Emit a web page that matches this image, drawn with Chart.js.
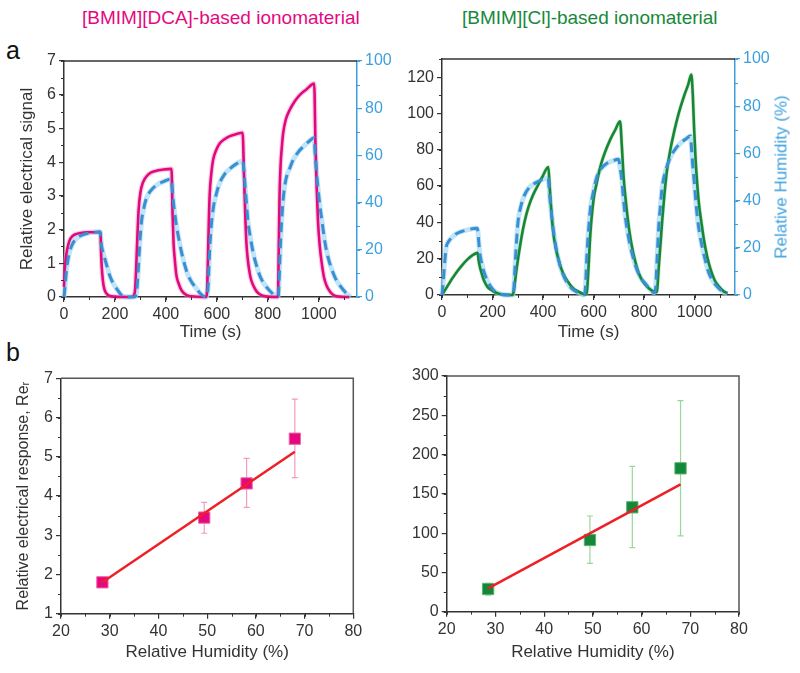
<!DOCTYPE html>
<html><head><meta charset="utf-8">
<script src="https://cdn.jsdelivr.net/npm/chart.js@4"></script>
<style>
body{margin:0;background:#fff;width:800px;height:673px;position:relative;overflow:hidden;font-family:"Liberation Sans",Arial,sans-serif}
canvas{position:absolute}
.t{position:absolute;white-space:nowrap;line-height:1}
</style></head><body>
<div class="t" style="left:82px;top:8px;color:#E5097F;font-size:19px">[BMIM][DCA]-based ionomaterial</div>
<div class="t" style="left:462px;top:8px;color:#17893A;font-size:19px">[BMIM][Cl]-based ionomaterial</div>
<div class="t" style="left:6px;top:38px;color:#111;font-size:25px">a</div>
<div class="t" style="left:6px;top:340px;color:#111;font-size:25px">b</div>
<canvas id="a1" width="400" height="305" style="left:0;top:40px"></canvas>
<canvas id="a2" width="400" height="305" style="left:400px;top:40px"></canvas>
<canvas id="b1" width="400" height="328" style="left:0;top:345px"></canvas>
<canvas id="b2" width="400" height="328" style="left:400px;top:345px"></canvas>
<div class="t" style="left:781px;top:177px;transform:translate(-50%,-50%) rotate(-90deg);color:#3DA0DC;font-size:17px">Relative Humidity (%)</div>
<script>
// ---------- data ----------
const timeTicks = [0,200,400,600,800,1000];
const dcaSignalTicks = [0,1,2,3,4,5,6,7];
const clSignalTicks = [0,20,40,60,80,100,120];
const rhTicks = [0,20,40,60,80,100];
const rhXTicks = [20,30,40,50,60,70,80];
const dcaReTicks = [1,2,3,4,5,6,7];
const clReTicks = [0,50,100,150,200,250,300];

// [time (s), relative electrical signal]
const dcaSignal = [
[0,0.3],[3,0.8],[8,1.2],[15,1.5],[22,1.68],[32,1.8],[45,1.86],[65,1.9],[90,1.92],[143,1.92],
[146,1.2],[150,0.7],[155,0.35],[165,0.12],[180,0.03],[200,0.01],[260,0],[270,0.02],[278,0.15],
[283,0.8],[288,1.8],[293,2.6],[300,3.1],[310,3.4],[330,3.63],[360,3.74],[390,3.78],[422,3.8],
[426,2.5],[430,1.6],[435,1.1],[441,0.65],[450,0.4],[461,0.2],[480,0.06],[500,0.02],[555,0],
[560,0.05],[563,0.5],[566,1.5],[569,2.4],[572,3.07],[578,3.65],[585,4.06],[597,4.35],[611,4.55],[630,4.68],[651,4.77],[675,4.83],[701,4.87],
[707,3.5],[712,2.3],[716,1.6],[729,0.7],[749,0.25],[768,0.08],[800,0.01],[838,0],
[840,0.05],[843,1.5],[846,3.0],[850,3.9],[855,4.45],[860,4.85],[870,5.25],[886,5.55],[905,5.8],[925,5.99],[950,6.15],[982,6.33],
[987,4.5],[992,3.2],[997,2.23],[1004,1.5],[1011,1.04],[1020,0.6],[1030,0.35],[1045,0.15],[1060,0.05],[1080,0.01],[1120,0]];

// [time (s), relative humidity (%)]
const dcaRH = [
[0,0],[4,4],[9,10.6],[15,15.5],[22,19.1],[35,22.8],[49,24.8],[70,26.2],[90,26.9],[115,27.4],[141,27.6],
[144,25],[147,21.9],[153,19],[160,16.3],[170,12.5],[179,9.2],[192,6],[206,3.6],[220,1.5],[232,0.3],[245,0],[275,0],[281,0.5],
[286,3],[291,10.6],[297,22],[304,31.8],[313,37.5],[323,41.7],[340,45],[363,47.4],[390,48.9],[421,50],
[424,47],[428,41.7],[434,36],[441,30.4],[450,25],[461,19.1],[474,13.5],[487,9.2],[503,6],[520,3.6],[535,1.5],[550,0.2],[558,0],
[562,1],[566,5],[570,16],[575,26],[585,37],[600,44.5],[611,48.3],[630,52],[651,54.3],[675,56.3],[702,57.6],
[706,54],[710,48],[716,40],[722,32],[732,25],[742,19],[755,13.5],[768,9.2],[780,6.5],[795,4.2],[815,1.8],[835,0.3],[841,0.3],
[844,6],[848,18],[853,30],[860,41],[867,47.5],[876,52],[886,54.5],[899,58],[920,61.5],[940,63.8],[960,65.8],[982,67.5],
[985,62],[991,53],[997,46],[1004,39],[1014,31],[1024,23.3],[1036,17],[1050,12],[1065,8],[1082,5],[1100,2.5],[1115,0.8],[1125,0]];

const clSignal = [
[0,0],[20,4.5],[40,9],[60,13],[80,16.5],[100,19.5],[120,21.8],[141,23.2],
[145,19],[150,15.5],[155,12.9],[161,10],[168,7.4],[180,4.5],[195,2.8],[210,1.5],[225,0.7],[245,0.2],[280,0],
[285,3],[294,12.9],[304,22.5],[314,31.3],[327,40.5],[341,47.9],[357,54],[374,58.9],[397,65],[421,70.5],
[426,60],[432,48],[440,35],[450,26],[460,20.3],[472,14.5],[486,10.1],[500,7],[513,4.6],[525,3],[540,1.9],[555,0.8],[568,0.3],
[574,2],[580,15],[587,33],[600,52.5],[613,62],[627,70.8],[645,78.5],[666,85.6],[686,91],[705,95.7],
[712,82],[719,65],[726,54],[733,45],[742,35],[752,26.7],[765,18.5],[779,12],[795,7.5],[812,4.6],[830,2.5],[848,1.5],
[852,3],[858,15],[865,28],[872,41.4],[881,56],[891,69],[904,80],[918,89.3],[937,100],[958,109.5],[975,116],[987,121.5],
[993,110],[998,92],[1004,74.5],[1010,62],[1017,50.6],[1027,40],[1037,30.4],[1050,21],[1064,13.8],[1080,8],[1097,4.6],[1115,2],[1130,1]];

const clRH = [
[0,0],[3,3],[8,10],[16,19.8],[25,22.5],[36,24],[55,25.8],[75,26.8],[100,27.6],[139,28.3],
[142,27],[146,22],[149,18.3],[155,14.5],[162,11.3],[172,8],[182,5.6],[195,3.2],[208,1.6],[222,0.7],[235,0.3],[250,0],[280,0],
[284,2],[288,9.9],[294,21],[301,31],[312,37.5],[327,42.4],[345,45.5],[367,47.3],[390,48.6],[420,49.6],
[423,47],[426,42.4],[433,35],[440,28.3],[450,21],[460,15.5],[472,10.8],[486,7.1],[500,4.5],[513,2.8],[530,1.5],[546,0.7],[560,0],
[567,2],[574,17.7],[580,27],[587,36],[600,44],[613,50],[630,53.5],[653,55.8],[675,56.8],[699,57.5],
[705,54],[712,48.7],[719,40],[726,33],[736,26],[746,20.5],[759,15],[772,10.6],[788,7],[806,4.7],[822,2.5],[839,1],
[845,2],[851,14],[858,29],[865,38],[872,45.9],[888,53.5],[905,58.6],[925,62],[944,64.3],[964,66],[984,67.4],
[988,62],[992,56],[997,50],[1004,41],[1011,33],[1020,26],[1030,20.5],[1043,14.5],[1057,9.2],[1073,5.8],[1090,3.5],[1110,1.5],[1130,0.5]];

// panel b
const rhLevels = [28.5, 49.4, 58.1, 68];
const dcaRe = [1.8, 3.45, 4.32, 5.46];
const dcaReLow = [1.75, 3.05, 3.71, 4.47];
const dcaReHigh = [1.85, 3.84, 4.96, 6.47];
const dcaFitX = [28.5, 68];
const dcaFitY = [1.8, 5.13];
const clRe = [28.9, 91.3, 132.9, 182.5];
const clReLow = [21, 61.6, 81.5, 96.4];
const clReHigh = [36, 121.8, 185, 268.6];
const clFitX = [28.5, 68];
const clFitY = [29.8, 162];

// ---------- styling ----------
const PINK = '#E4087E', PINK_BAND = 'rgba(240,150,190,0.45)';
const GREEN = '#15873A', GREEN_BAND = 'rgba(150,205,120,0.4)';
const BLUE = '#3A8FD2', BLUE_BAND = 'rgba(165,217,245,0.7)', BLUE_AXIS = '#3DA0DC';
const DARK = '#333';
const FONT = '"Liberation Sans", Arial, sans-serif';
Chart.defaults.font.family = FONT;
Chart.defaults.color = '#222';

const xy = arr => arr.map(([x, y]) => ({x, y}));

function lin(pos, min, max, tickVals, size, color, title, titlePad, titleSize) {
  const vert = pos === 'left' || pos === 'right';
  return {
    type: 'linear', position: pos, min, max,
    afterBuildTicks: s => { s.ticks = tickVals.map(v => ({value: v})); },
    afterFit: s => { if (vert) s.width = size; else s.height = size; },
    grid: {drawOnChartArea: false, color, tickLength: 5, lineWidth: 1.2},
    border: {color, width: 1.5},
    ticks: {color, font: {size: 16}, padding: 3, autoSkip: false, maxRotation: 0, callback: v => String(v)},
    title: title ? {display: true, text: title, color, font: {size: titleSize || 17}, padding: titlePad} : {display: false}
  };
}

const panelPlugin = {
  id: 'panel',
  beforeDatasetsDraw(chart, args, o) {
    if (!o.err) return;
    const {ctx} = chart, e = o.err;
    const sx = chart.scales.x, sy = chart.scales.y;
    ctx.save();
    ctx.strokeStyle = e.color; ctx.lineWidth = 1.2;
    e.xs.forEach((x, i) => {
      const px = sx.getPixelForValue(x), p1 = sy.getPixelForValue(e.lo[i]), p2 = sy.getPixelForValue(e.hi[i]);
      ctx.beginPath();
      ctx.moveTo(px, p1); ctx.lineTo(px, p2);
      ctx.moveTo(px - 3, p1); ctx.lineTo(px + 3, p1);
      ctx.moveTo(px - 3, p2); ctx.lineTo(px + 3, p2);
      ctx.stroke();
    });
    ctx.restore();
  },
  afterDraw(chart, args, o) {
    const {ctx, chartArea: a} = chart;
    ctx.save();
    ctx.strokeStyle = o.frameColor || DARK; ctx.lineWidth = 1.5;
    ctx.beginPath(); ctx.moveTo(a.left, a.top); ctx.lineTo(a.right, a.top);
    if (o.frameRight) ctx.lineTo(a.right, a.bottom);
    ctx.stroke();
    for (const [id, step] of Object.entries(o.minor || {})) {
      const s = chart.scales[id];
      ctx.strokeStyle = s.options.border.color; ctx.lineWidth = 1;
      for (let v = s.min; v <= s.max + 1e-9; v += step) {
        const p = Math.round(s.getPixelForValue(v)) + 0.5;
        ctx.beginPath();
        if (s.isHorizontal()) { ctx.moveTo(p, a.bottom); ctx.lineTo(p, a.bottom + 3); }
        else if (s.position === 'left') { ctx.moveTo(a.left, p); ctx.lineTo(a.left - 3, p); }
        else { ctx.moveTo(a.right, p); ctx.lineTo(a.right + 3, p); }
        ctx.stroke();
      }
    }
    ctx.restore();
  }
};

function line(data, color, width, yAxisID, dash, order) {
  return {data: xy(data), borderColor: color, borderWidth: width, borderDash: dash || [], pointRadius: 0,
    cubicInterpolationMode: 'monotone', yAxisID, order, clip: 8, fill: false};
}

const common = {
  responsive: false, animation: false, devicePixelRatio: 1,
  plugins: {legend: {display: false}, tooltip: {enabled: false}}
};

function timeChart(id, sig, rh, mainColor, bandColor, bandW, yMax, yTicks, leftW, rightW, xH, topPad, xMax, leftTitle, minorY) {
  new Chart(document.getElementById(id), {
    type: 'line',
    data: {datasets: [
      line(rh, BLUE, 3, 'y2', [10, 6], 0),
      line(sig, mainColor, 2.6, 'y', [], 1),
      line(rh, BLUE_BAND, 5, 'y2', [], 2),
      line(sig, bandColor, bandW, 'y', [], 3)
    ]},
    options: Object.assign({}, common, {
      layout: {padding: {top: topPad, left: 0, right: 0, bottom: 0}},
      scales: {
        x: lin('bottom', 0, xMax, timeTicks, xH, DARK, 'Time (s)', {top: 2, bottom: 2}),
        y: lin('left', 0, yMax, yTicks, leftW, DARK, leftTitle, {top: 17, bottom: 2}),
        y2: lin('right', 0, 100, rhTicks, rightW, BLUE_AXIS, null)
      },
      plugins: Object.assign({}, common.plugins, {panel: {minor: {x: 100, y: minorY, y2: 10}}})
    }),
    plugins: [panelPlugin]
  });
}

timeChart('a1', dcaSignal, dcaRH, PINK, PINK_BAND, 5, 7, dcaSignalTicks, 64, 43, 48, 21, 1150, 'Relative electrical signal', 0.5);
timeChart('a2', clSignal, clRH, GREEN, GREEN_BAND, 4, 130, clSignalTicks, 42, 65, 50, 19, 1160, null, 10);

function reChart(id, ys, lo, hi, fx, fy, color, edge, errColor, yMin, yMax, yTicks, leftW, rightPad, topPad, xH, yTitle, minorY) {
  new Chart(document.getElementById(id), {
    type: 'scatter',
    data: {datasets: [
      {data: fx.map((x, i) => ({x, y: fy[i]})), showLine: true, borderColor: '#EE1F26', borderWidth: 2.5, pointRadius: 0, order: 0},
      {data: rhLevels.map((x, i) => ({x, y: ys[i]})), pointStyle: 'rect', pointRadius: 8, backgroundColor: color, borderColor: edge, borderWidth: 1, order: 1}
    ]},
    options: Object.assign({}, common, {
      layout: {padding: {top: topPad, left: 0, right: rightPad, bottom: 0}},
      scales: {
        x: lin('bottom', 20, 80, rhXTicks, xH, DARK, 'Relative Humidity (%)', {top: 2, bottom: 10}),
        y: lin('left', yMin, yMax, yTicks, leftW, DARK, yTitle, {top: 14, bottom: 2}, 16)
      },
      plugins: Object.assign({}, common.plugins, {panel: {frameRight: true, frameColor: '#555', minor: {x: 5, y: minorY},
        err: {xs: rhLevels, lo, hi, color: errColor}}})
    }),
    plugins: [panelPlugin]
  });
}

reChart('b1', dcaRe, dcaReLow, dcaReHigh, dcaFitX, dcaFitY, PINK, '#F06AAA', '#F29BC2', 1, 7, dcaReTicks, 61, 46.7, 33.3, 59.3, 'Relative electrical response, Reᵣ', 0.5);
reChart('b2', clRe, clReLow, clReHigh, clFitX, clFitY, GREEN, '#5DB56E', '#9AD79A', 0, 300, clReTicks, 46.7, 61, 31, 61.3, null, 25);
</script>
</body></html>
